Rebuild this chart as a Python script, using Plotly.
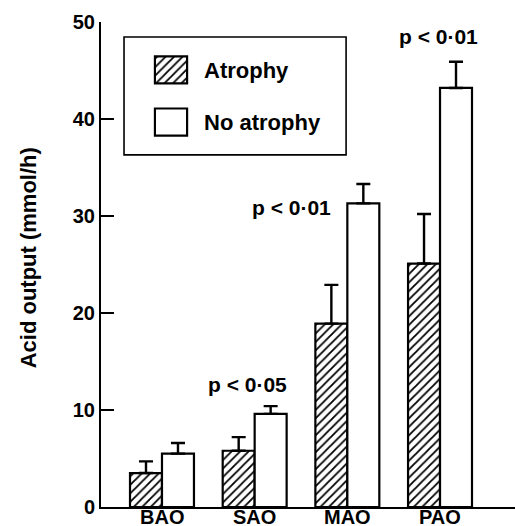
import plotly.graph_objects as go

categories = ["BAO", "SAO", "MAO", "PAO"]
series_names = ["Atrophy", "No atrophy"]
atrophy = [3.5, 5.8, 18.9, 25.1]
atrophy_err_top = [4.7, 7.2, 22.9, 30.2]
no_atrophy = [5.5, 9.6, 31.3, 43.2]
no_atrophy_err_top = [6.6, 10.4, 33.3, 45.9]
p_labels = ["p < 0·05", "p < 0·01", "p < 0·01"]
p_x = [0.92, 1.40, 2.98]
p_y = [12.6, 30.9, 48.5]
y_ticks = [0, 10, 20, 30, 40, 50]
y_title = "Acid output (mmol/h)"

FONT = "Liberation Sans"
INK = "#000000"

fig = go.Figure()

def upper(tops, vals):
    return [t - v for t, v in zip(tops, vals)]

HATCH = dict(shape="/", fgcolor=INK, bgcolor="white", size=6, solidity=0.3, fgopacity=1)

fig.add_trace(go.Bar(
    x=categories, y=atrophy, name=series_names[0],
    marker=dict(color="white", line=dict(color=INK, width=2.2), pattern=HATCH),
    error_y=dict(type="data", array=upper(atrophy_err_top, atrophy),
                 arrayminus=[0] * len(atrophy), symmetric=False,
                 color=INK, thickness=2.4, width=7),
    showlegend=False,
))
fig.add_trace(go.Bar(
    x=categories, y=no_atrophy, name=series_names[1],
    marker=dict(color="white", line=dict(color=INK, width=2.2)),
    error_y=dict(type="data", array=upper(no_atrophy_err_top, no_atrophy),
                 arrayminus=[0] * len(no_atrophy), symmetric=False,
                 color=INK, thickness=2.4, width=7),
    showlegend=False,
))

# legend swatches on an auxiliary axis pair
fig.add_trace(go.Bar(
    x=[1], y=[series_names[0]], orientation="h", xaxis="x2", yaxis="y2", width=0.52,
    marker=dict(color="white", line=dict(color=INK, width=2.2), pattern=HATCH),
    showlegend=False, hoverinfo="skip",
))
fig.add_trace(go.Bar(
    x=[1], y=[series_names[1]], orientation="h", xaxis="x2", yaxis="y2", width=0.52,
    marker=dict(color="white", line=dict(color=INK, width=2.2)),
    showlegend=False, hoverinfo="skip",
))

annotations = []
# category labels under the axis
for c in categories:
    annotations.append(dict(x=c, y=0.004, xref="x", yref="paper", text=c, showarrow=False,
                            xanchor="center", yanchor="top", borderpad=0,
                            font=dict(family=FONT, size=20, color=INK, weight="bold")))
for t, x, y in zip(p_labels, p_x, p_y):
    annotations.append(dict(x=x, y=y, xref="x", yref="y", text=t, showarrow=False,
                            xanchor="center", yanchor="middle",
                            font=dict(family=FONT, size=21, color=INK, weight="bold")))
# legend labels
for name, yp in zip(series_names, [0.899, 0.792]):
    annotations.append(dict(x=0.244, y=yp, xref="paper", yref="paper", text=name,
                            showarrow=False, xanchor="left", yanchor="middle",
                            font=dict(family=FONT, size=22, color=INK, weight="bold")))
# y axis title
annotations.append(dict(x=-0.176, y=0.513, xref="paper", yref="paper", text=y_title,
                        textangle=-90, showarrow=False, xanchor="center", yanchor="middle",
                        font=dict(family=FONT, size=22, color=INK, weight="bold")))

fig.update_layout(
    width=515, height=526,
    margin=dict(l=101, r=0, t=22, b=19),
    paper_bgcolor="white", plot_bgcolor="white",
    barmode="group", bargap=0.31, bargroupgap=0,
    font=dict(family=FONT, color=INK),
    xaxis=dict(range=[-0.658, 3.809], showgrid=False, zeroline=False,
               showline=True, linecolor=INK, linewidth=2, ticks="",
               showticklabels=False, automargin=False),
    yaxis=dict(range=[0, 50], tickvals=y_ticks, showgrid=False, zeroline=False,
               showline=True, linecolor=INK, linewidth=2, ticks="inside",
               ticklen=13, tickwidth=2, tickcolor=INK,
               tickfont=dict(family=FONT, size=20, color=INK, weight="bold"),
               automargin=False),
    xaxis2=dict(domain=[0.1256, 0.2126], range=[-0.06, 1.06], visible=False, anchor="y2"),
    yaxis2=dict(domain=[0.740, 0.955], range=[1.5, -0.5], visible=False, anchor="x2",
                type="category", categoryorder="array", categoryarray=series_names),
    shapes=[dict(type="rect", xref="paper", yref="paper", x0=0.0556, x1=0.592,
                 y0=0.726, y1=0.969, line=dict(color=INK, width=1.6))],
    annotations=annotations,
)

fig.write_html(
    "out.html",
    config={"displayModeBar": False},
    post_script="document.body.style.margin='0';document.body.style.overflow='hidden';",
)
